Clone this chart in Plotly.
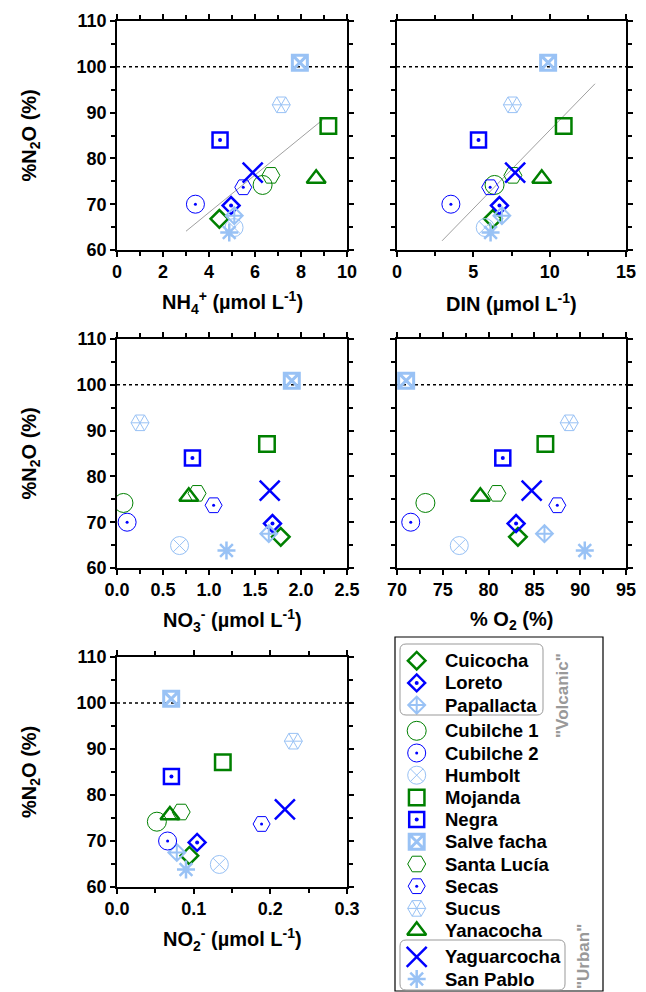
import plotly.graph_objects as go

# ---------------- data ----------------
lakes = ["Cuicocha", "Loreto", "Papallacta", "Cubilche 1", "Cubilche 2", "Humbolt",
         "Mojanda", "Negra", "Salve facha", "Santa Lucía", "Secas", "Sucus",
         "Yanacocha", "Yaguarcocha", "San Pablo"]
n2o_pct = [66.8, 69.7, 67.5, 74.2, 70.0, 64.9, 87.1, 84.0, 100.9, 76.3, 73.7, 91.7, 75.6, 76.9, 63.8]
nh4 = [4.45, 4.96, 5.10, 6.33, 3.41, 5.09, 9.19, 4.48, 7.95, 6.69, 5.49, 7.14, 8.66, 5.90, 4.88]
din = [6.28, 6.71, 6.87, 6.39, 3.53, 5.78, 10.92, 5.34, 9.90, 7.59, 6.10, 7.56, 9.48, 7.74, 6.13]
no3 = [1.78, 1.69, 1.65, 0.07, 0.11, 0.68, 1.63, 0.82, 1.90, 0.87, 1.05, 0.25, 0.78, 1.66, 1.19]
o2 = [83.2, 83.0, 86.1, 73.1, 71.5, 76.8, 86.2, 81.55, 71.0, 80.9, 87.5, 88.8, 79.1, 84.7, 90.5]
no2 = [0.0945, 0.1045, 0.078, 0.052, 0.066, 0.1335, 0.138, 0.071, 0.0707, 0.0837, 0.1886, 0.230, 0.069, 0.219, 0.090]

fit_nh4_x = [3.0, 8.96]
fit_nh4_y = [64.1, 88.5]
fit_din_x = [2.95, 12.97]
fit_din_y = [62.0, 96.3]
saturation = 100

# ---------------- styles ----------------
GREEN, BLUE, LBLUE = "#008000", "#0000FF", "#99C2F5"
FONT = "Liberation Sans, Arial, sans-serif"
# symbol, color, line width, size, dot size, spokes
styles = {
    "Cuicocha":    ("diamond-open", GREEN, 2.5, 13.5, 0, False),
    "Loreto":      ("diamond-open", BLUE, 2.5, 13, 4, False),
    "Papallacta":  ("diamond-cross-open", LBLUE, 2, 13, 0, False),
    "Cubilche 1":  ("circle-open", GREEN, 1, 19, 0, False),
    "Cubilche 2":  ("circle-open", BLUE, 1, 18, 3, False),
    "Humbolt":     ("circle-x-open", LBLUE, 1, 18, 0, False),
    "Mojanda":     ("square-open", GREEN, 2.5, 15.5, 0, False),
    "Negra":       ("square-open", BLUE, 2.5, 15, 4, False),
    "Salve facha": ("square-x-open", LBLUE, 3, 15, 0, False),
    "Santa Lucía": ("hexagon2-open", GREEN, 1, 18, 0, False),
    "Secas":       ("hexagon2-open", BLUE, 1, 17, 3, False),
    "Sucus":       ("hexagon2-open", LBLUE, 1, 18, 0, True),
    "Yanacocha":   ("triangle-up-open", GREEN, 2.5, 16.5, 0, False),
    "Yaguarcocha": ("x-thin-open", BLUE, 2.5, 20, 0, False),
    "San Pablo":   ("asterisk-open", LBLUE, 2.5, 15, 0, False),
}

W, H = 646, 992
def fx(p): return p / W
def fy(p): return 1 - p / H

panels = [
    dict(x=nh4, xr=[0, 10], dt=2, fmt=None, xd=(117, 347), yd=(21, 250), ylab=True,
         title="NH<sub>4</sub><sup>+</sup> (µmol L<sup>-1</sup>)", fit=(fit_nh4_x, fit_nh4_y)),
    dict(x=din, xr=[0, 15], dt=5, fmt=None, xd=(397, 626), yd=(21, 250), ylab=False,
         title="DIN (µmol L<sup>-1</sup>)", fit=(fit_din_x, fit_din_y)),
    dict(x=no3, xr=[0, 2.5], dt=0.5, fmt=".1f", xd=(117, 347), yd=(339, 568), ylab=True,
         title="NO<sub>3</sub><sup>-</sup> (µmol L<sup>-1</sup>)", fit=None),
    dict(x=o2, xr=[70, 95], dt=5, fmt=None, xd=(397, 626), yd=(339, 568), ylab=False,
         title="% O<sub>2</sub> (%)", fit=None),
    dict(x=no2, xr=[0, 0.3], dt=0.1, fmt=".1f", xd=(117, 347), yd=(657, 887), ylab=True,
         title="NO<sub>2</sub><sup>-</sup> (µmol L<sup>-1</sup>)", fit=None),
]

fig = go.Figure()
layout = dict(width=W, height=H, margin=dict(l=0, r=0, t=0, b=0, autoexpand=False),
              paper_bgcolor="white", plot_bgcolor="white", showlegend=False,
              font=dict(family=FONT, color="black"))
annotations = []
shapes = []

def add_marks(xs, ys, name, xa, ya):
    sym, col, lw, sz, dot, spokes = styles[name]
    fig.add_trace(go.Scatter(x=xs, y=ys, mode="markers", xaxis=xa, yaxis=ya, hoverinfo="skip",
                             marker=dict(symbol=sym, size=sz, color=col, line=dict(color=col, width=lw))))
    if dot:
        fig.add_trace(go.Scatter(x=xs, y=ys, mode="markers", xaxis=xa, yaxis=ya, hoverinfo="skip",
                                 marker=dict(symbol="circle", size=dot, color=col, line=dict(width=0))))
    if spokes:
        for ang in (0, 60, 120):
            fig.add_trace(go.Scatter(x=xs, y=ys, mode="markers", xaxis=xa, yaxis=ya, hoverinfo="skip",
                                     marker=dict(symbol="line-ew-open", size=sz * 0.72, angle=ang,
                                                 color=col, line=dict(color=col, width=lw))))

for k, p in enumerate(panels):
    i = k + 1
    xa = "x" if i == 1 else f"x{i}"
    ya = "y" if i == 1 else f"y{i}"
    xkey = "xaxis" if i == 1 else f"xaxis{i}"
    ykey = "yaxis" if i == 1 else f"yaxis{i}"
    common = dict(showline=True, linewidth=1.5, linecolor="black", mirror="allticks",
                  ticks="outside", ticklen=5, tickwidth=1.5, tickcolor="black",
                  showgrid=False, zeroline=False, automargin=False,
                  tickfont=dict(family=FONT, size=18, color="black", weight="bold"))
    layout[xkey] = dict(common, domain=[fx(p["xd"][0]), fx(p["xd"][1])], range=p["xr"],
                        tick0=p["xr"][0], dtick=p["dt"], anchor=ya,
                        minor=dict(dtick=p["dt"] / 2, ticks="outside", ticklen=4, tickwidth=1.5, tickcolor="black"),
                        tickformat=p["fmt"] if p["fmt"] else "")
    layout[ykey] = dict(common, domain=[fy(p["yd"][1]), fy(p["yd"][0])], range=[60, 110],
                        tick0=60, dtick=10, anchor=xa, showticklabels=p["ylab"],
                        minor=dict(dtick=5, ticks="outside", ticklen=4, tickwidth=1.5, tickcolor="black"))
    # regression line
    if p["fit"]:
        fig.add_trace(go.Scatter(x=p["fit"][0], y=p["fit"][1], mode="lines", xaxis=xa, yaxis=ya,
                                 hoverinfo="skip", line=dict(color="#A0A0A0", width=1)))
    # saturation line
    shapes.append(dict(type="line", xref=f"{xa} domain", x0=0, x1=1, yref=ya, y0=saturation, y1=saturation,
                       line=dict(color="black", width=1.5, dash="dot"), layer="below"))
    for j, name in enumerate(lakes):
        add_marks([p["x"][j]], [n2o_pct[j]], name, xa, ya)
    # axis titles
    annotations.append(dict(xref="paper", yref="paper", x=fx((p["xd"][0] + p["xd"][1]) / 2),
                            y=fy(p["yd"][1] + 52), text=p["title"], showarrow=False,
                            xanchor="center", yanchor="middle",
                            font=dict(family=FONT, size=20, color="black", weight="bold")))
    if p["ylab"]:
        annotations.append(dict(xref="paper", yref="paper", x=fx(30), y=fy((p["yd"][0] + p["yd"][1]) / 2),
                                text="%N<sub>2</sub>O (%)", textangle=-90, showarrow=False,
                                xanchor="center", yanchor="middle",
                                font=dict(family=FONT, size=20, color="black", weight="bold")))

# ---------------- legend panel (pixel coordinates) ----------------
LX0, LX1, LY0, LY1 = 394, 606, 635, 992
layout["xaxis6"] = dict(domain=[fx(LX0), fx(LX1)], range=[LX0, LX1], visible=False, anchor="y6",
                        fixedrange=True, automargin=False)
layout["yaxis6"] = dict(domain=[fy(LY1), fy(LY0)], range=[LY1, LY0], visible=False, anchor="x6",
                        fixedrange=True, automargin=False)

def leg_y(i):
    return 660.7 + 22.2 * i + (3.5 if i >= 3 else 0) + (4.0 if i >= 13 else 0)

for i, name in enumerate(lakes):
    yy = leg_y(i)
    add_marks([416.7], [yy], name, "x6", "y6")
    annotations.append(dict(xref="x6", yref="y6", x=443, y=yy, text=name, showarrow=False,
                            xanchor="left", yanchor="middle",
                            font=dict(family=FONT, size=18.5, color="black", weight="bold")))

shapes.append(dict(type="rect", xref="x6", yref="y6", x0=395, x1=603, y0=637, y1=991,
                   line=dict(color="black", width=1.2)))

def rounded(x0, y0, x1, y1, r):
    return (f"M{x0 + r},{y0} L{x1 - r},{y0} Q{x1},{y0} {x1},{y0 + r} L{x1},{y1 - r} "
            f"Q{x1},{y1} {x1 - r},{y1} L{x0 + r},{y1} Q{x0},{y1} {x0},{y1 - r} "
            f"L{x0},{y0 + r} Q{x0},{y0} {x0 + r},{y0} Z")

shapes.append(dict(type="path", xref="x6", yref="y6", path=rounded(400, 644, 543, 715, 6),
                   line=dict(color="#999999", width=1)))
shapes.append(dict(type="path", xref="x6", yref="y6", path=rounded(400, 940, 565, 990, 6),
                   line=dict(color="#999999", width=1)))
annotations.append(dict(xref="x6", yref="y6", x=562, y=696, text='"Volcanic"', textangle=-90,
                        showarrow=False, xanchor="center", yanchor="middle",
                        font=dict(family=FONT, size=17, color="#999999", weight="bold")))
annotations.append(dict(xref="x6", yref="y6", x=583, y=957, text='"Urban"', textangle=-90,
                        showarrow=False, xanchor="center", yanchor="middle",
                        font=dict(family=FONT, size=17, color="#999999", weight="bold")))

layout["annotations"] = annotations
layout["shapes"] = shapes
fig.update_layout(**layout)
fig.write_html("out.html")
